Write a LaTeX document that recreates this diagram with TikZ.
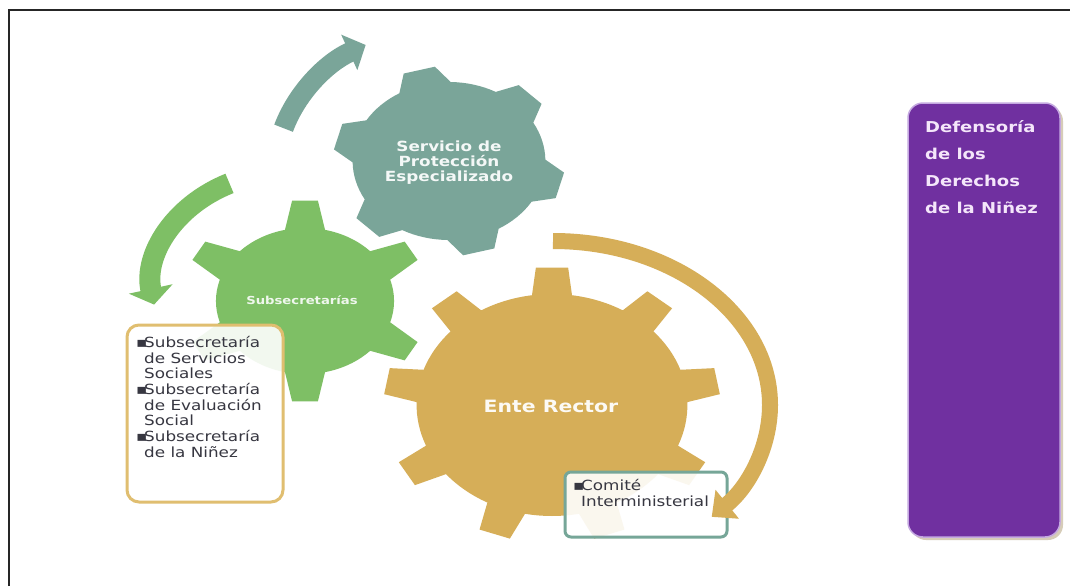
\documentclass[tikz,border=0pt]{standalone}
\usepackage{fontspec}
\usetikzlibrary{arrows.meta}
\newfontfamily\wf{DejaVu Sans}[FakeStretch=1.2]
\definecolor{tealG}{RGB}{122,165,153}
\definecolor{greenG}{RGB}{126,191,101}
\definecolor{goldG}{RGB}{214,174,88}
\definecolor{goldB}{RGB}{224,190,112}
\definecolor{tealB}{RGB}{118,166,152}
\definecolor{purpleC}{RGB}{112,48,160}
\definecolor{lavC}{RGB}{196,168,224}
\definecolor{shadowC}{RGB}{214,204,184}
\definecolor{txtC}{RGB}{55,55,65}
\definecolor{pinkT}{RGB}{244,230,250}
\newcommand\mygear[9]{%
  \fill[#9, shift={(#1,-#2)}, xscale=1.22]
    ({#6-#7}:#4)
    \foreach \i in {1,...,#3}{
      -- ({#6+(\i-1)*360/#3-#8}:#5) -- ({#6+(\i-1)*360/#3+#8}:#5)
      -- ({#6+(\i-1)*360/#3+#7}:#4)
      arc[start angle={#6+(\i-1)*360/#3+#7}, end angle={#6+\i*360/#3-#7}, radius=#4]
    } -- cycle;}
\newcommand\bul{\makebox[8pt][l]{▪}}
\newcommand\ind{\hspace*{8pt}}
\tikzset{
  gearlabel/.style={text=white, align=center, inner sep=0pt},
  listtext/.style={text=txtC, align=left, inner sep=0pt,
    font=\wf\fontsize{14}{15.7}\selectfont},
  infobox/.style={line width=3pt, fill=white, fill opacity=0.9, text opacity=1},
  cycarrow/.style={line width=#1},
}
\begin{document}
\begin{tikzpicture}[x=1pt,y=1pt]
\useasboundingbox (0,0) rectangle (1070,-586);
\fill[white] (0,0) rectangle (1070,-586);
% frame
\draw[line width=2pt, black!85] (8.5,-586) -- (8.5,-10) -- (1070,-10);
% gears
\mygear{449}{161}{6}{79}{95}{105}{16}{8}{tealG}
\mygear{305}{301}{6}{73}{101}{90}{13}{6}{greenG}
\mygear{552}{405}{9}{111}{138}{90}{8.5}{5.5}{goldG}
% circular arrows
\draw[tealG, cycarrow=20pt, -{Triangle[width=38pt,length=18pt]}]
  (283.6,-128.2) arc[start angle=163, end angle=119, x radius=174, y radius=143];
\draw[greenG, cycarrow=21pt, -{Triangle[width=44pt,length=16pt]}]
  (229.5,-183.4) arc[start angle=116, end angle=190, x radius=138, y radius=113];
% gear labels
\node[gearlabel, font=\wf\bfseries\fontsize{14}{15}\selectfont, text=white!92!tealG] (sp) at (449,-163)
  {Servicio de\\Protección\\Especializado};
\node[gearlabel, font=\wf\bfseries\fontsize{11}{13}\selectfont, text=white!88!greenG] (sub) at (302,-300)
  {Subsecretarías};
\node[gearlabel, font=\wf\bfseries\fontsize{17}{20}\selectfont, anchor=base, text=white!94!goldG] (er) at (551,-412)
  {Ente Rector};
% subsecretarias box
\draw[infobox, draw=goldB, rounded corners=12pt] (127,-325) rectangle (283,-502);
\node[listtext, anchor=north west] (subs) at (136,-336)
  {\bul Subsecretaría\\\ind de Servicios\\\ind Sociales\\\bul Subsecretaría\\\ind de Evaluación\\\ind Social\\\bul Subsecretaría\\\ind de la Niñez};
% comite box
\draw[infobox, draw=tealB, rounded corners=6pt] (565,-472) rectangle (727,-537);
\node[listtext, anchor=north west] (com) at (573,-479)
  {\bul Comité\\\ind Interministerial};
% gold arrow (over box)
\draw[goldG, cycarrow=16pt, -{Triangle[width=36pt,length=20pt]}]
  (553,-241) arc[start angle=90, end angle=-43, x radius=217, y radius=164];
% purple box
\fill[shadowC, rounded corners=15pt] (911,-106) rectangle (1063,-540);
\draw[line width=1.5pt, draw=lavC, fill=purpleC, rounded corners=15pt] (908,-103) rectangle (1060,-537);
\node[anchor=north west, inner sep=0pt, align=left, text=pinkT,
  font=\wf\bfseries\fontsize{15}{27}\selectfont] (def) at (925,-120)
  {Defensoría\\de los\\Derechos\\de la Niñez};
\end{tikzpicture}
\end{document}
